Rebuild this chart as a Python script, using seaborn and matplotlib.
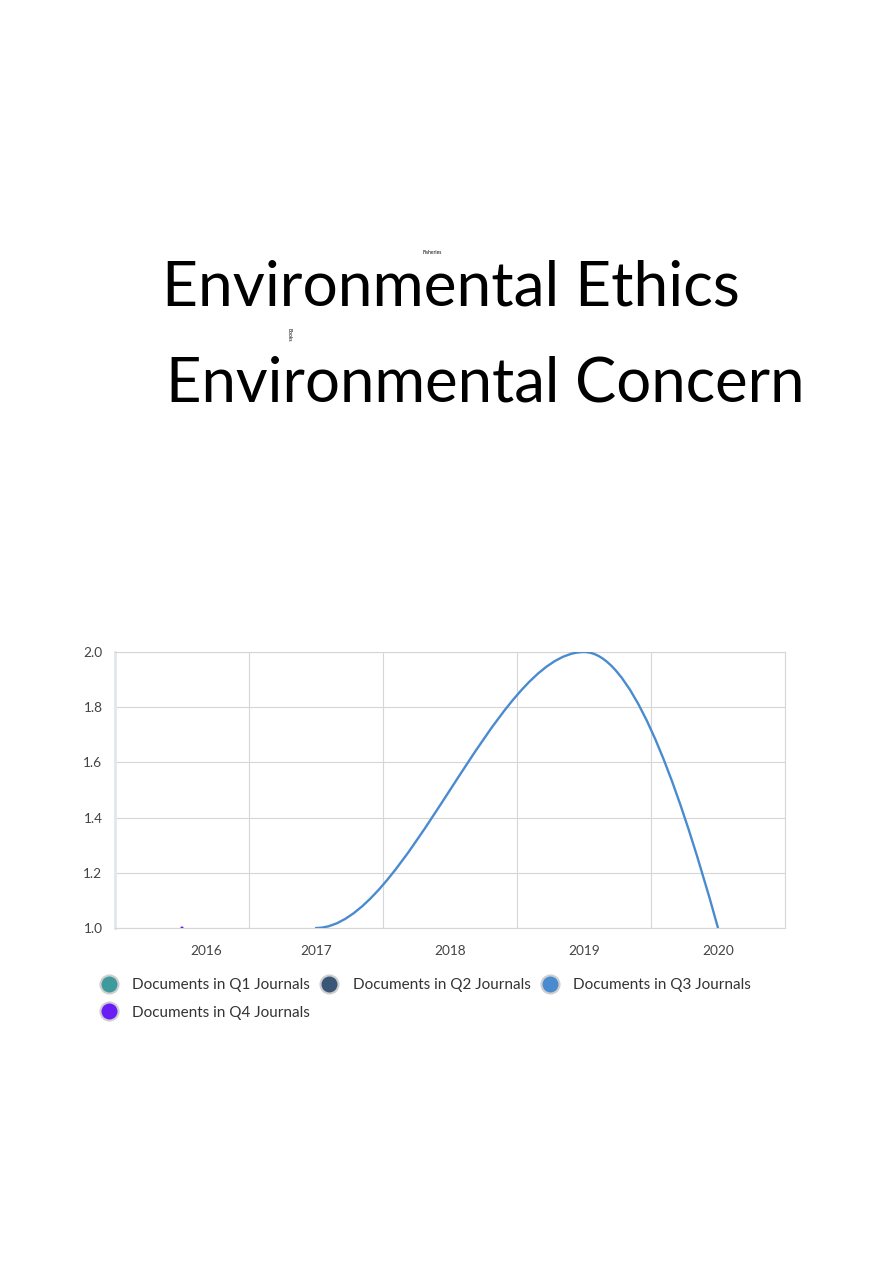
import numpy as np
import matplotlib
matplotlib.use('Agg')
import matplotlib.pyplot as plt
import seaborn as sns
from matplotlib.path import Path
from matplotlib.patches import PathPatch
from matplotlib.lines import Line2D
import matplotlib.transforms as mtransforms

# --- data ---
years = [2016, 2017, 2018, 2019, 2020]
q3_years = [2017, 2018, 2019, 2020]
q3_docs = [1.0, 1.5, 2.0, 1.0]
q4_years = [2016]
q4_docs = [1.0]
y_ticks = [1.0, 1.2, 1.4, 1.6, 1.8, 2.0]

legend_labels = ['Documents in Q1 Journals', 'Documents in Q2 Journals',
                 'Documents in Q3 Journals', 'Documents in Q4 Journals']
legend_colors = ['#3f9b9b', '#3a5676', '#4a8bcf', '#6a1df5']

# word cloud terms above the chart
cloud_words = ['Environmental Ethics', 'Environmental Concern', 'Fisheries', 'Books']

sns.set_theme(style='white')
plt.rcParams['font.family'] = ['Lato', 'DejaVu Sans']

fig = plt.figure(figsize=(8.93, 12.63), dpi=100)

# --- word cloud ---
fig.text(162 / 893, 1 - 306 / 1263, cloud_words[0], fontsize=44.8, color='black',
         ha='left', va='baseline')
fig.text(166 / 893, 1 - 401 / 1263, cloud_words[1], fontsize=44.4, color='black',
         ha='left', va='baseline')
fig.text(432 / 893, 1 - 253 / 1263, cloud_words[2], fontsize=3.5, color='black',
         ha='center', va='center')
fig.text(289 / 893, 1 - 335 / 1263, cloud_words[3], fontsize=3.5, color='black',
         ha='center', va='center', rotation=-90)

# --- chart ---
ax = fig.add_axes([115 / 893, 1 - 928 / 1263, 670 / 893, 276 / 1263])


def smooth_path(xs, ys, tension=1.5):
    # cubic hermite curve through the points, drawn as bezier segments
    xs = np.asarray(xs, float)
    ys = np.asarray(ys, float)
    h = np.diff(xs)
    d = np.diff(ys) / h
    m = np.zeros_like(ys)
    for i in range(1, len(ys) - 1):
        if d[i - 1] * d[i] > 0:  # flat at peaks and dips
            m[i] = tension * (ys[i + 1] - ys[i - 1]) / (xs[i + 1] - xs[i - 1])
    m[-1] = ((2 * h[-1] + h[-2]) * d[-1] - h[-1] * d[-2]) / (h[-1] + h[-2])
    m[0] = 0.0  # the original line leaves its first point flat
    verts = [(xs[0], ys[0])]
    codes = [Path.MOVETO]
    for i in range(len(xs) - 1):
        verts += [(xs[i] + h[i] / 3, ys[i] + m[i] * h[i] / 3),
                  (xs[i + 1] - h[i] / 3, ys[i + 1] - m[i + 1] * h[i] / 3),
                  (xs[i + 1], ys[i + 1])]
        codes += [Path.CURVE4] * 3
    return Path(verts, codes)


ax.add_patch(PathPatch(smooth_path(q3_years, q3_docs), fill=False,
                       edgecolor=legend_colors[2], lw=1.7, zorder=3,
                       capstyle='round', joinstyle='round'))
sns.scatterplot(x=q4_years, y=q4_docs, ax=ax, color=legend_colors[3], s=5,
                edgecolor='none', zorder=4, legend=False)

ax.set_xlim(years[0] - 0.5, years[-1] + 0.5)
ax.set_ylim(y_ticks[0], y_ticks[-1])
ax.set_xticks(years)
ax.set_xticklabels([str(y) for y in years])
ax.set_xticks([y + 0.5 for y in years[:-1]], minor=True)
ax.set_yticks(y_ticks)
ax.set_yticklabels([f'{v:.1f}' for v in y_ticks])

ax.grid(False)
ax.grid(True, which='minor', axis='x', color='#d6d6d6', lw=0.8)
ax.grid(True, which='major', axis='y', color='#d6d6d6', lw=0.8)
ax.tick_params(axis='both', which='both', length=0, labelsize=9.8, colors='#444444')
ax.tick_params(axis='x', pad=12)
ax.tick_params(axis='y', pad=9)

for side in ['top', 'right', 'bottom']:
    ax.spines[side].set_color('#d6d6d6')
    ax.spines[side].set_linewidth(0.8)
ax.spines['left'].set_color('#dfe7ef')
ax.spines['left'].set_linewidth(2)

# first year label sits a little right of its slot in the original
lbl = ax.get_xticklabels()[0]
lbl.set_transform(lbl.get_transform() + mtransforms.ScaledTranslation(24 / 100, 0, fig.dpi_scale_trans))

# --- legend (row-wise order: Q1 Q2 Q3 / Q4) ---
order = [0, 3, 1, 2]
handles = [Line2D([], [], ls='none', marker='o', markersize=13,
                  markerfacecolor=legend_colors[i], markeredgecolor='#cfcfcf',
                  markeredgewidth=1.5) for i in order]
fig.legend(handles, [legend_labels[i] for i in order], ncol=3, frameon=False,
           loc='upper left', bbox_to_anchor=(100 / 893, 1 - 978 / 1263),
           fontsize=11, labelcolor='#333333', handletextpad=0.95,
           columnspacing=0.7, handlelength=1.15, labelspacing=0.9,
           borderaxespad=0, borderpad=0)

fig.savefig('out.png', dpi=100)
